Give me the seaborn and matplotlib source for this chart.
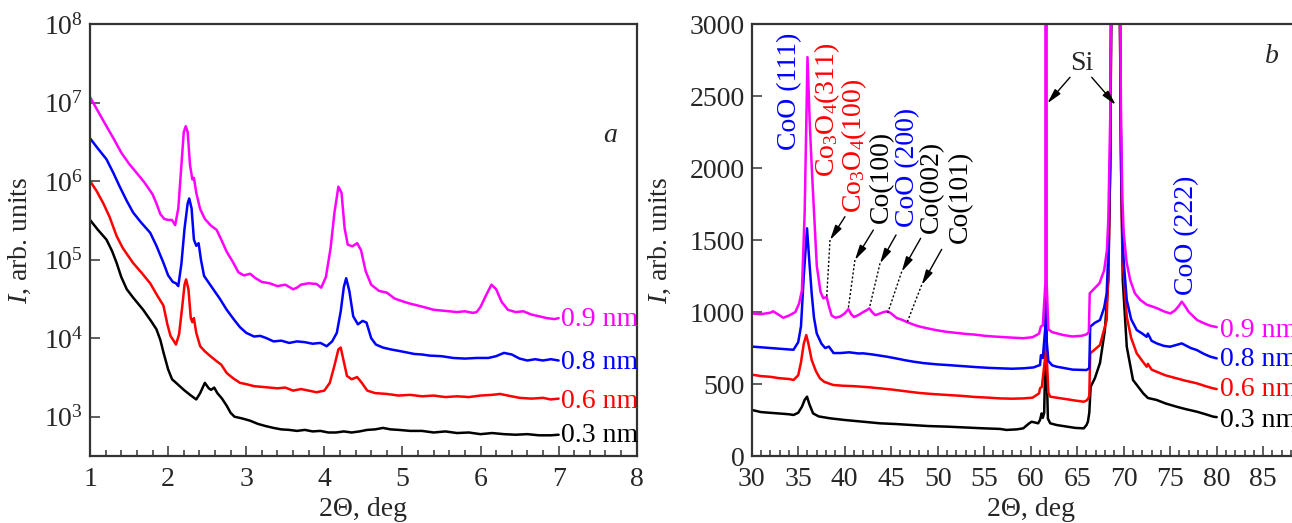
import matplotlib
matplotlib.use("Agg")
import numpy as np
import pandas as pd
import matplotlib.pyplot as plt
from matplotlib.ticker import MultipleLocator, FixedLocator, NullLocator
import seaborn as sns

# --- Datos: series y etiquetas ---
samples = ["0.3 nm", "0.6 nm", "0.8 nm", "0.9 nm"]
colors = ["#000000", "#ff0000", "#0000ff", "#ff00ff"]

# panel a (baja incidencia, escala log)
a_tt_09 = [1.00, 1.10, 1.20, 1.30, 1.40, 1.50, 1.60, 1.70, 1.80, 1.85, 1.90, 1.95, 2.00, 2.05, 2.09,
           2.13, 2.17, 2.20, 2.225, 2.25, 2.28, 2.31, 2.33, 2.36, 2.41, 2.47, 2.55, 2.62, 2.68, 2.75,
           2.83, 2.90, 2.97, 3.05, 3.12, 3.20, 3.30, 3.40, 3.50, 3.60, 3.65, 3.70, 3.80, 3.90, 3.96,
           4.02, 4.08, 4.13, 4.18, 4.22, 4.26, 4.30, 4.36, 4.42, 4.47, 4.53, 4.60, 4.70, 4.80, 4.90,
           5.00, 5.10, 5.20, 5.30, 5.40, 5.50, 5.60, 5.70, 5.80, 5.90, 5.95, 6.00, 6.07, 6.14, 6.20,
           6.27, 6.35, 6.45, 6.55, 6.65, 6.75, 6.85, 6.95, 7.00]
a_i_09 = [1.17e7, 7.8e6, 5.2e6, 3.5e6, 2.3e6, 1.66e6, 1.26e6, 9.5e5, 6.8e5, 5.2e5, 3.8e5, 3.3e5, 3.2e5, 3.2e5, 2.75e5,
          4.5e5, 1.6e6, 4.2e6, 5.0e6, 4.2e6, 1.6e6, 1.05e6, 1.1e6, 7.1e5, 4.4e5, 3.3e5, 2.7e5, 2.4e5, 1.8e5, 1.26e5,
          9.3e4, 6.9e4, 6.3e4, 6.6e4, 5.8e4, 5.2e4, 5.0e4, 4.6e4, 4.8e4, 4.2e4, 4.4e4, 4.8e4, 5.0e4, 4.9e4, 4.4e4,
          6.0e4, 1.4e5, 4.0e5, 8.5e5, 7.1e5, 2.5e5, 1.55e5, 1.48e5, 1.62e5, 1.32e5, 7.1e4, 4.8e4, 4.0e4, 3.8e4, 3.2e4,
          2.95e4, 2.75e4, 2.6e4, 2.45e4, 2.3e4, 2.25e4, 2.2e4, 2.15e4, 2.2e4, 2.1e4, 2.15e4, 2.5e4, 3.5e4, 4.8e4, 4.2e4,
          2.9e4, 2.3e4, 2.15e4, 2.2e4, 2.0e4, 1.9e4, 1.8e4, 1.75e4, 1.8e4]

a_tt_08 = [1.00, 1.10, 1.21, 1.30, 1.38, 1.47, 1.55, 1.65, 1.77, 1.85, 1.94, 2.00, 2.06, 2.10, 2.13,
           2.17, 2.21, 2.25, 2.27, 2.30, 2.33, 2.36, 2.39, 2.42, 2.46, 2.55, 2.66, 2.75, 2.84, 2.92,
           3.00, 3.10, 3.18, 3.26, 3.35, 3.45, 3.55, 3.65, 3.75, 3.85, 3.95, 4.03, 4.10, 4.16, 4.21,
           4.25, 4.28, 4.32, 4.37, 4.43, 4.49, 4.54, 4.60, 4.66, 4.75, 4.85, 4.95, 5.05, 5.15, 5.25,
           5.35, 5.50, 5.65, 5.80, 5.95, 6.10, 6.20, 6.30, 6.40, 6.50, 6.60, 6.70, 6.80, 6.90, 7.00]
a_i_08 = [3.5e6, 2.6e6, 1.9e6, 1.26e6, 8.5e5, 5.6e5, 4.0e5, 3.0e5, 2.2e5, 1.5e5, 9.1e4, 6.3e4, 5.2e4, 5.0e4, 4.6e4,
          8.9e4, 2.5e5, 5.2e5, 6.0e5, 4.5e5, 1.8e5, 1.5e5, 1.62e5, 1.0e5, 6.2e4, 4.6e4, 3.2e4, 2.3e4, 1.74e4, 1.38e4,
          1.17e4, 1.05e4, 1.07e4, 1.0e4, 9.1e3, 9.3e3, 8.7e3, 9.1e3, 8.9e3, 8.5e3, 8.7e3, 7.9e3, 9.1e3, 1.17e4, 2.2e4,
          4.5e4, 5.8e4, 4.0e4, 1.9e4, 1.5e4, 1.66e4, 1.58e4, 1.0e4, 8.3e3, 7.6e3, 7.2e3, 6.9e3, 6.6e3, 6.3e3, 6.2e3,
          6.0e3, 5.9e3, 5.6e3, 5.5e3, 5.6e3, 5.6e3, 5.9e3, 6.5e3, 6.2e3, 5.5e3, 5.2e3, 5.4e3, 5.2e3, 5.4e3, 5.2e3]

a_tt_06 = [1.00, 1.08, 1.17, 1.25, 1.34, 1.42, 1.55, 1.66, 1.77, 1.86, 1.94, 1.99, 2.03, 2.07, 2.10,
           2.14, 2.18, 2.21, 2.23, 2.26, 2.29, 2.31, 2.33, 2.36, 2.41, 2.47, 2.55, 2.62, 2.68, 2.75,
           2.83, 2.92, 3.00, 3.10, 3.20, 3.30, 3.40, 3.50, 3.60, 3.70, 3.80, 3.90, 4.00, 4.07, 4.13,
           4.18, 4.21, 4.25, 4.29, 4.35, 4.42, 4.48, 4.55, 4.65, 4.80, 4.95, 5.10, 5.25, 5.40, 5.55,
           5.70, 5.85, 6.00, 6.15, 6.25, 6.35, 6.50, 6.65, 6.80, 6.90, 7.00]
a_i_06 = [1.0e6, 7.6e5, 5.2e5, 3.5e5, 2.0e5, 1.4e5, 9.1e4, 6.8e4, 5.0e4, 3.5e4, 2.6e4, 1.5e4, 1.07e4, 9.3e3, 8.3e3,
          1.12e4, 2.5e4, 4.8e4, 5.6e4, 4.2e4, 1.8e4, 1.6e4, 1.8e4, 1.17e4, 7.9e3, 6.8e3, 5.8e3, 5.1e3, 4.6e3, 3.6e3,
          3.1e3, 2.7e3, 2.6e3, 2.45e3, 2.4e3, 2.35e3, 2.3e3, 2.35e3, 2.15e3, 2.25e3, 2.15e3, 2.05e3, 2.15e3, 2.7e3, 4.5e3,
          7.2e3, 7.6e3, 5.0e3, 3.3e3, 3.0e3, 3.2e3, 2.7e3, 2.15e3, 2.0e3, 1.95e3, 1.86e3, 1.9e3, 1.82e3, 1.86e3, 1.78e3,
          1.82e3, 1.78e3, 1.86e3, 1.9e3, 1.95e3, 1.86e3, 1.74e3, 1.7e3, 1.74e3, 1.66e3, 1.7e3]

a_tt_03 = [1.00, 1.10, 1.21, 1.28, 1.34, 1.40, 1.47, 1.55, 1.68, 1.78, 1.85, 1.90, 1.94, 2.00, 2.05,
           2.12, 2.20, 2.28, 2.36, 2.41, 2.47, 2.52, 2.55, 2.59, 2.63, 2.69, 2.75, 2.80, 2.85, 2.95,
           3.05, 3.15, 3.25, 3.35, 3.45, 3.55, 3.65, 3.75, 3.85, 3.95, 4.05, 4.15, 4.25, 4.35, 4.45,
           4.55, 4.65, 4.75, 4.85, 4.95, 5.10, 5.25, 5.40, 5.55, 5.70, 5.85, 6.00, 6.15, 6.30, 6.45,
           6.60, 6.75, 6.90, 7.00]
a_i_03 = [3.2e5, 2.4e5, 1.8e5, 1.3e5, 9.1e4, 6.0e4, 4.2e4, 3.3e4, 2.3e4, 1.66e4, 1.3e4, 9.5e3, 6.6e3, 4.0e3, 3.0e3,
          2.6e3, 2.2e3, 1.9e3, 1.66e3, 2.0e3, 2.7e3, 2.3e3, 2.2e3, 2.35e3, 2.0e3, 1.7e3, 1.38e3, 1.12e3, 1.0e3, 950,
          890, 810, 760, 720, 690, 680, 660, 680, 650, 660, 630, 630, 650, 630, 650,
          680, 690, 720, 690, 680, 660, 660, 630, 650, 620, 630, 600, 620, 600, 590,
          600, 580, 580, 590]

# panel b (difraccion, escala lineal)
b_tt_09 = [30.0, 31.0, 32.0, 32.3, 32.8, 33.4, 34.0, 34.7, 35.1, 35.4, 35.7, 36.0, 36.25, 36.5, 37.0,
           37.4, 37.7, 38.06, 38.3, 38.6, 39.0, 39.5, 40.0, 40.4, 40.7, 41.0, 41.5, 42.0, 42.3, 42.65,
           43.0, 43.3, 43.8, 44.2, 44.6, 45.0, 45.6, 46.2, 46.7, 47.5, 48.1, 49.0, 50.0, 51.0, 52.0,
           53.0, 54.0, 55.0, 56.0, 57.0, 58.0, 59.2, 60.2, 60.9, 61.1, 61.3, 61.58, 61.65, 61.72, 61.9,
           62.3, 62.8, 63.5, 64.5, 65.5, 66.0, 66.25, 66.35, 66.8, 67.4, 67.9, 68.2, 68.35, 68.55, 68.65,
           69.1, 69.6, 69.72, 69.85, 70.0, 70.3, 70.7, 71.2, 71.8, 72.5, 73.0, 73.6, 74.3, 75.0, 75.5,
           75.9, 76.25, 76.6, 77.0, 77.9, 78.7, 79.3, 80.0]
b_i_09 = [990, 985, 995, 1005, 985, 960, 975, 1000, 1060, 1150, 1700, 2770, 2300, 1950, 1320,
          1140, 1095, 1105, 1040, 975, 960, 968, 990, 1020, 985, 965, 980, 1000, 1010, 1025,
          995, 978, 990, 1000, 1005, 990, 958, 945, 930, 910, 898, 885, 872, 862, 855,
          848, 843, 835, 830, 826, 822, 818, 825, 850, 900, 905, 1200, 20000, 1200, 880,
          860, 852, 840, 830, 835, 845, 860, 1130, 1160, 1200, 1290, 1430, 1650, 2350, 3300,
          50000, 3300, 2300, 1800, 1550, 1350, 1222, 1130, 1083, 1050, 1040, 1026, 1005, 990, 1010,
          1040, 1072, 1040, 1000, 944, 920, 905, 895]

b_tt_08 = [30.0, 31.0, 32.0, 33.0, 34.0, 34.5, 35.0, 35.3, 35.6, 35.95, 36.2, 36.45, 36.7, 37.0, 37.5,
           37.9, 38.3, 38.8, 39.5, 40.5, 41.5, 42.0, 43.0, 44.0, 44.5, 45.5, 46.5, 47.4, 48.5, 50.0,
           51.0, 52.5, 54.0, 55.5, 56.7, 58.0, 59.2, 60.3, 61.0, 61.1, 61.3, 61.58, 61.65, 61.72, 61.9,
           62.3, 62.8, 63.5, 64.5, 65.5, 66.0, 66.3, 66.4, 66.9, 67.45, 67.9, 68.17, 68.35, 68.55, 68.65,
           69.1, 69.6, 69.72, 69.85, 70.0, 70.33, 70.8, 71.4, 72.0, 72.47, 72.6, 73.0, 73.55, 74.3, 74.98,
           75.6, 76.24, 76.6, 77.2, 77.85, 78.6, 79.3, 80.0]
b_i_08 = [760, 755, 750, 745, 740, 738, 790, 900, 1250, 1581, 1350, 1130, 960, 850, 780,
          750, 760, 715, 715, 720, 712, 713, 705, 695, 690, 678, 665, 655, 645, 636,
          632, 625, 618, 612, 609, 606, 609, 615, 632, 700, 680, 900, 1050, 800, 660,
          630, 620, 612, 600, 598, 597, 610, 898, 925, 944, 1030, 1130, 1420, 2100, 3100,
          40000, 3100, 2100, 1600, 1350, 1083, 950, 875, 850, 828, 850, 800, 782, 765, 759,
          770, 782, 770, 750, 736, 710, 690, 678]

b_tt_06 = [30.0, 31.0, 32.0, 33.0, 34.0, 34.5, 35.0, 35.3, 35.6, 35.87, 36.1, 36.45, 36.9, 37.33, 37.8,
           38.77, 39.8, 41.0, 42.5, 43.8, 45.0, 46.5, 48.0, 49.5, 51.0, 52.5, 54.0, 55.5, 56.7, 58.0,
           59.2, 60.2, 60.9, 61.0, 61.2, 61.58, 61.65, 61.72, 61.9, 62.1, 62.8, 63.8, 64.8, 65.7, 66.0,
           66.2, 66.3, 66.4, 66.9, 67.45, 67.9, 68.17, 68.35, 68.55, 68.65, 69.1, 69.6, 69.72, 69.9, 70.33,
           70.8, 71.4, 72.0, 72.47, 72.6, 73.0, 73.55, 74.5, 75.7, 76.5, 77.85, 78.8, 79.6, 80.0]
b_i_06 = [565, 555, 550, 540, 535, 528, 560, 650, 780, 840, 780, 667, 590, 540, 515,
          493, 488, 485, 478, 470, 462, 450, 438, 430, 424, 418, 410, 405, 400, 398,
          400, 405, 435, 470, 480, 700, 950, 700, 440, 412, 405, 395, 385, 377, 385,
          400, 420, 713, 740, 771, 880, 944, 1300, 2000, 3000, 30000, 3000, 2000, 1350, 967,
          820, 713, 660, 620, 640, 600, 585, 560, 539, 525, 505, 485, 470, 465]

b_tt_03 = [30.0, 31.0, 32.0, 33.0, 34.0, 34.5, 35.0, 35.4, 35.7, 35.95, 36.2, 36.6, 37.2, 38.4, 40.0,
           42.0, 43.8, 45.5, 47.5, 49.0, 51.0, 53.0, 55.0, 56.7, 57.4, 58.5, 59.2, 59.8, 60.1, 60.5,
           60.8, 61.0, 61.18, 61.3, 61.45, 61.58, 61.65, 61.72, 61.85, 62.1, 62.8, 63.8, 64.8, 65.7, 66.0,
           66.15, 66.3, 66.45, 66.9, 67.45, 67.98, 68.35, 68.55, 68.65, 69.1, 69.6, 69.72, 69.9, 70.33, 71.0,
           72.1, 72.6, 73.55, 74.5, 75.7, 76.7, 77.85, 78.8, 79.64, 80.0]
b_i_03 = [320, 305, 300, 295, 290, 285, 300, 342, 390, 412, 360, 296, 275, 262, 250,
          238, 227, 222, 214, 208, 204, 198, 192, 188, 181, 185, 192, 225, 238, 232,
          227, 250, 296, 265, 300, 700, 1100, 600, 260, 227, 215, 205, 195, 192, 215,
          238, 300, 481, 540, 646, 875, 1222, 2000, 3000, 25000, 3000, 2000, 1222, 759, 528,
          435, 403, 389, 365, 342, 325, 308, 290, 273, 270]

# --- Armar tablas para seaborn ---
def build_frame(series):
    frames = []
    for name, tt, inten in series:
        frames.append(pd.DataFrame({"two_theta": tt, "intensity": inten, "sample": name}))
    return pd.concat(frames, ignore_index=True)

df_a = build_frame([("0.3 nm", a_tt_03, a_i_03), ("0.6 nm", a_tt_06, a_i_06),
                    ("0.8 nm", a_tt_08, a_i_08), ("0.9 nm", a_tt_09, a_i_09)])
df_b = build_frame([("0.3 nm", b_tt_03, b_i_03), ("0.6 nm", b_tt_06, b_i_06),
                    ("0.8 nm", b_tt_08, b_i_08), ("0.9 nm", b_tt_09, b_i_09)])

# --- Estilo ---
sns.set_style("ticks")
plt.rcParams["font.family"] = ["Liberation Serif", "DejaVu Serif"]
plt.rcParams["mathtext.fontset"] = "custom"
plt.rcParams["mathtext.rm"] = "Liberation Serif"
plt.rcParams["mathtext.it"] = "Liberation Serif:italic"
plt.rcParams["mathtext.bf"] = "Liberation Serif:bold"
FS = 20
SPINE = "#333333"

fig = plt.figure(figsize=(12.92, 5.23), dpi=100)
ax_a = fig.add_axes([0.0697, 0.1281, 0.4231, 0.826])
ax_b = fig.add_axes([0.5818, 0.1281, 0.4319, 0.826])

palette = dict(zip(samples, colors))
for ax, df in [(ax_a, df_a), (ax_b, df_b)]:
    sns.lineplot(data=df, x="two_theta", y="intensity", hue="sample", hue_order=samples,
                 palette=palette, estimator=None, sort=False, linewidth=1.8,
                 legend=False, ax=ax)
    for side in ["left", "right", "top", "bottom"]:
        ax.spines[side].set_color(SPINE)
        ax.spines[side].set_linewidth(1.6)
    ax.tick_params(which="both", direction="in", top=False, right=False,
                   color=SPINE, width=1.1, labelsize=FS)
    ax.tick_params(which="major", length=7.5)
    ax.tick_params(which="minor", length=4.5)
    ax.tick_params(axis="x", pad=8)
    ax.tick_params(axis="y", pad=5)
    ax.set_xlabel("2\u0398, deg", fontsize=FS)
    ax.set_ylabel("$I$, arb. units", fontsize=FS)

# panel a
ax_a.set_yscale("log")
ax_a.set_xlim(1, 8)
ax_a.set_ylim(10 ** 2.5, 1e8)
ax_a.xaxis.set_major_locator(MultipleLocator(1))
ax_a.xaxis.set_minor_locator(MultipleLocator(0.2))
ax_a.yaxis.set_major_locator(FixedLocator([1e3, 1e4, 1e5, 1e6, 1e7, 1e8]))
ax_a.yaxis.set_minor_locator(NullLocator())
ax_a.xaxis.set_label_coords(0.5, -0.095)
ax_a.yaxis.set_label_coords(-0.104, 0.5)
ax_a.text(7.66, 3.85e6, "a", fontsize=FS, style="italic", ha="center", va="center")
for name, col, yv in zip(samples, colors, [570, 1.58e3, 4.97e3, 1.73e4]):
    ax_a.text(7.03, yv, name, color=col, fontsize=FS, ha="left", va="center")

# panel b
ax_b.set_xlim(30, 90)
ax_b.set_ylim(0, 3000)
ax_b.xaxis.set_major_locator(MultipleLocator(5))
ax_b.xaxis.set_minor_locator(MultipleLocator(1))
ax_b.yaxis.set_major_locator(MultipleLocator(500))
ax_b.yaxis.set_minor_locator(NullLocator())
ax_b.xaxis.set_label_coords(0.5, -0.095)
ax_b.yaxis.set_label_coords(-0.141, 0.5)
ax_b.text(85.9, 2773, "b", fontsize=FS, style="italic", ha="center", va="center")
for name, col, yv in zip(samples, colors, [245, 465, 673, 875]):
    ax_b.text(80.35, yv, name, color=col, fontsize=FS, ha="left", va="center")

# etiquetas de picos (texto vertical)
peak_labels = [
    ("CoO (111)", "#0000ff", 34.12, 2125),
    ("Co$_3$O$_4$(311)", "#ff0000", 38.15, 1940),
    ("Co$_3$O$_4$(100)", "#ff0000", 40.98, 1688),
    ("Co(100)", "#000000", 43.98, 1618),
    ("CoO (200)", "#0000ff", 46.8, 1590),
    ("Co(002)", "#000000", 49.35, 1549),
    ("Co(101)", "#000000", 52.4, 1479),
    ("CoO (222)", "#0000ff", 76.77, 1118),
]
for txt, col, xv, yv in peak_labels:
    ax_b.text(xv, yv, txt, color=col, fontsize=FS, rotation=90, ha="center", va="bottom")

arrow_kw = dict(arrowstyle="-|>,head_length=0.9,head_width=0.22", color="black",
                lw=1.0, shrinkA=0, shrinkB=0)
arrows = [((40.03, 1662), (38.42, 1500), (38.06, 1095)),
          ((43.08, 1569), (41.10, 1361), (40.39, 1026)),
          ((45.52, 1535), (43.80, 1338), (42.65, 1026)),
          ((48.17, 1512), (46.13, 1280), (44.62, 991)),
          ((50.43, 1435), (48.28, 1188), (46.67, 921))]
for start, head, end in arrows:
    ax_b.annotate("", xy=head, xytext=start, arrowprops=arrow_kw)
    ax_b.plot([head[0], end[0]], [head[1], end[1]], color="black", lw=1.0, ls=(0, (1.5, 1.5)))

ax_b.text(65.48, 2727, "Si", fontsize=FS, ha="center", va="center")
ax_b.annotate("", xy=(61.79, 2449), xytext=(64.23, 2630), arrowprops=arrow_kw)
ax_b.annotate("", xy=(69.14, 2438), xytext=(66.56, 2630), arrowprops=arrow_kw)

fig.savefig("out.png", dpi=100)
